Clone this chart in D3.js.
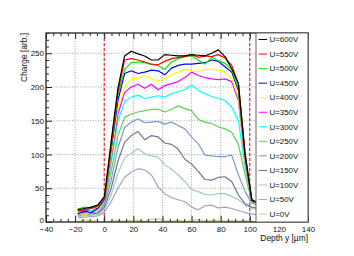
<!DOCTYPE html>
<html><head><meta charset="utf-8">
<script src="https://cdn.jsdelivr.net/npm/d3@7"></script>
<style>body{margin:0;background:#fff}svg{display:block}text{font-family:"Liberation Sans",Arial,Helvetica,sans-serif}</style>
</head><body><svg id="c" width="354" height="256"></svg>
<script>
const depth = [-18.2,-13.6,-9.0,-4.4,0.2,4.8,9.4,14.0,18.6,23.2,27.8,32.4,37.0,41.6,46.2,50.8,55.4,60.0,64.6,69.2,73.8,78.4,83.0,87.6,92.2,96.8,101.4,106.0];
const labels = ["U=600V","U=550V","U=500V","U=450V","U=400V","U=350V","U=300V","U=250V","U=200V","U=150V","U=100V","U=50V","U=0V"];
const colors = ["#000000","#ff0000","#00ee00","#0000ff","#ffff00","#ff00ff","#00ffff","#59d454","#7d99d1","#737295","#a3cbbd","#a2a0c8","#d4cf87"];
const v600 = [18,20,22,25,38,120,198,246,253,249,246,240,240,248,247,246,246,248,247,246,250,255,245,227,205,100,32,28];
const v550 = [16,18,20,24,36,116,192,240,242,240,237,234,233,238,242,244,245,248,244,246,245,248,243,232,205,102,33,28];
const v500 = [19,22,20,23,35,112,188,226,236,237,236,233,232,226,237,242,245,246,240,234,244,239,235,226,198,98,34,27];
const v450 = [12,16,14,20,33,108,180,220,224,220,222,225,224,218,228,232,234,234,235,236,240,238,230,222,195,95,33,27];
const v400 = [14,10,15,18,31,100,170,200,212,213,217,212,209,213,218,222,226,224,223,226,226,225,222,212,185,90,33,26];
const v350 = [20,14,22,20,30,95,160,192,200,204,198,204,196,202,205,208,214,222,217,214,212,211,212,208,180,88,32,26];
const v300 = [16,18,17,20,29,88,150,178,185,188,183,185,187,185,190,193,196,203,195,190,186,183,180,170,150,82,32,26];
const v250 = [14,16,17,18,27,75,128,155,160,163,165,167,167,163,167,172,168,165,152,148,146,141,138,133,115,70,30,25];
const v200 = [12,13,14,15,25,62,110,140,148,153,147,148,149,145,148,143,138,126,116,99,98,97,97,99,70,45,28,24];
const v150 = [10,11,12,13,22,50,90,118,128,134,122,128,126,117,115,108,93,86,75,63,62,66,67,60,40,27,22,20];
const v100 = [8,9,10,11,19,40,72,95,102,109,101,98,96,85,78,70,60,48,45,41,40,42,42,38,33,25,20,18];
const v50 = [6,7,8,9,15,30,50,66,74,79,77,70,52,42,36,33,30,22,18,24,25,21,22,20,17,14,12,10];
const v0 = [1,3,2,1,0,1,2,1,3,2,1,4,5,2,1,3,1,2,4,1,2,3,1,2,1,2,1,0];
const seriesValues = [v600,v550,v500,v450,v400,v350,v300,v250,v200,v150,v100,v50,v0];
const xTicks = [-40,-20,0,20,40,60,80,100,120,140];
const yTicks = [0,50,100,150,200,250];
const xGrid = [-20,0,20,40,60,80,100,120];
const yGrid = [50,100,150,200,250];
const boundaries = [0,100];

const L=46,R=308,T=33,B=222;
const x = d3.scaleLinear().domain([-40,140]).range([L,R]);
const y = d3.scaleLinear().domain([0,280]).range([B,T]);
const svg = d3.select("#c");

svg.append("defs").append("clipPath").attr("id","clip").append("rect")
  .attr("x",L).attr("y",T).attr("width",R-L).attr("height",B-T);

// grid
const g = svg.append("g");
g.selectAll(".gx").data(xGrid).enter().append("line")
  .attr("x1",d=>x(d)).attr("x2",d=>x(d)).attr("y1",T).attr("y2",B)
  .attr("stroke","#8a8a8a").attr("stroke-width",0.8).attr("stroke-dasharray","1,1.6");
g.selectAll(".gy").data(yGrid).enter().append("line")
  .attr("x1",L).attr("x2",R).attr("y1",d=>y(d)).attr("y2",d=>y(d))
  .attr("stroke","#8a8a8a").attr("stroke-width",0.8).attr("stroke-dasharray","1,1.6");

// boundaries
g.selectAll(".bd").data(boundaries).enter().append("line")
  .attr("x1",d=>x(d)).attr("x2",d=>x(d)).attr("y1",T).attr("y2",B)
  .attr("stroke","#ff0000").attr("stroke-width",1).attr("stroke-dasharray","3,2");

// data
const line = d3.line().x((d,i)=>x(depth[i])).y(d=>y(d));
const dg = svg.append("g").attr("clip-path","url(#clip)");
const order = d3.range(seriesValues.length).reverse();
dg.selectAll("path").data(order).enter().append("path")
  .attr("d",i=>line(seriesValues[i]))
  .attr("fill","none").attr("stroke",i=>colors[i]).attr("stroke-width",1.2)
  .attr("stroke-linejoin","round");

// axes
function styleAxis(sel){ sel.select(".domain").remove(); sel.selectAll("line").attr("stroke","#222"); sel.selectAll("text").attr("font-size","8px").attr("fill","#111").attr("font-family",'"Liberation Sans",Arial,sans-serif'); }
const xMinor = d3.range(-40,141,5).filter(v=>v%20!==0);
const yMinor = d3.range(0,281,10).filter(v=>v%50!==0);
svg.append("g").attr("transform",`translate(0,${B})`).call(d3.axisBottom(x).tickValues(xTicks).tickSizeInner(-6).tickSizeOuter(0).tickPadding(4)).call(styleAxis);
svg.append("g").attr("transform",`translate(0,${B})`).call(d3.axisBottom(x).tickValues(xMinor).tickSizeInner(-3).tickSizeOuter(0).tickFormat("")).call(styleAxis);
svg.append("g").attr("transform",`translate(0,${T})`).call(d3.axisTop(x).tickValues(xTicks).tickSizeInner(-6).tickSizeOuter(0).tickFormat("")).call(styleAxis);
svg.append("g").attr("transform",`translate(0,${T})`).call(d3.axisTop(x).tickValues(xMinor).tickSizeInner(-3).tickSizeOuter(0).tickFormat("")).call(styleAxis);
const yAx = svg.append("g").attr("transform",`translate(${L},0)`).call(d3.axisLeft(y).tickValues(yTicks).tickSizeInner(-6).tickSizeOuter(0).tickPadding(2)).call(styleAxis);
yAx.selectAll("text").filter(d=>d===0).attr("dy","0.1em");
svg.append("g").attr("transform",`translate(${L},0)`).call(d3.axisLeft(y).tickValues(yMinor).tickSizeInner(-3).tickSizeOuter(0).tickFormat("")).call(styleAxis);

svg.append("rect").attr("x",L).attr("y",T).attr("width",R-L).attr("height",B-T)
  .attr("fill","none").attr("stroke","#333").attr("stroke-width",1.4);

// titles
svg.append("text").attr("transform",`translate(26.5,${T}) rotate(-90)`).attr("text-anchor","end")
  .attr("font-size","8.4px").attr("fill","#111").text("Charge [arb.]");
svg.append("text").attr("x",R).attr("y",240.5).attr("text-anchor","end")
  .attr("font-size","8.4px").attr("fill","#111").text("Depth y [µm]");

// legend
const lg = svg.append("g");
lg.append("rect").attr("x",256).attr("y",T).attr("width",52).attr("height",189)
  .attr("fill","#fff").attr("stroke","#666").attr("stroke-width",1);
const ent = lg.selectAll(".e").data(labels).enter().append("g")
  .attr("transform",(d,i)=>`translate(0,${39.5+14.55*i})`);
ent.append("line").attr("x1",258.5).attr("x2",267).attr("y1",0).attr("y2",0)
  .attr("stroke",(d,i)=>colors[i]).attr("stroke-width",1);
ent.append("text").attr("x",269.5).attr("y",0).attr("dy","0.35em")
  .attr("font-size","7.9px").attr("fill","#111").text(d=>d);
</script></body></html>
